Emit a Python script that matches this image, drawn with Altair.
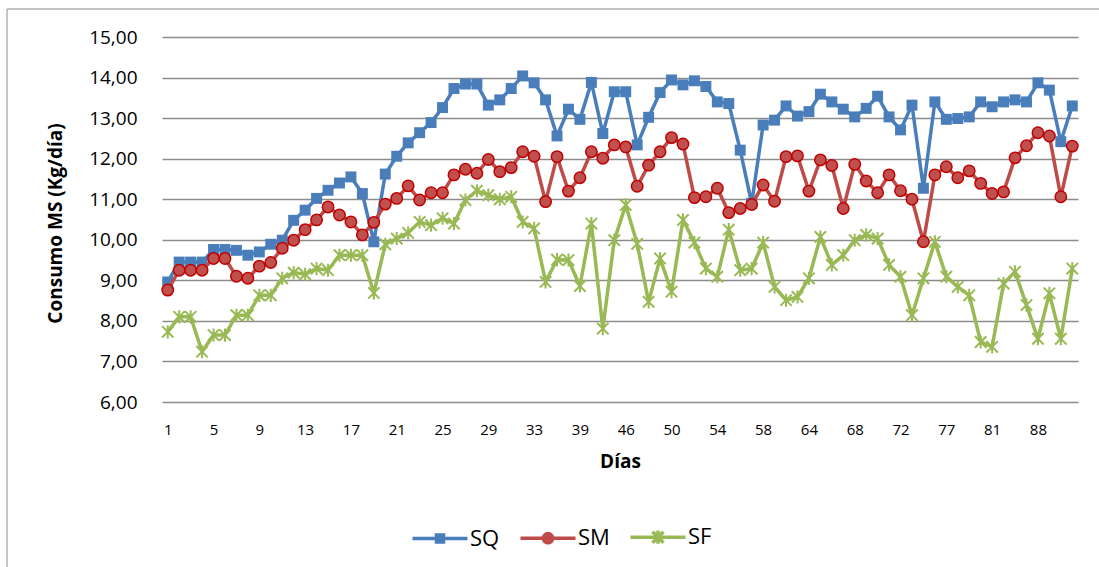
import altair as alt
import pandas as pd

dias = [str(d) for d in range(1, 34)] + [
    "34", "36", "37", "39",
    "41", "43", "44", "46",
    "47", "48", "49", "50",
    "51", "52", "53", "54",
    "55", "56", "57", "58",
    "60", "62", "63", "64",
    "65", "66", "67", "68",
    "69", "70", "71", "72",
    "74", "75", "76", "77",
    "78", "79", "80", "81",
    "83", "85", "86", "88",
    "89", "90", "91",
]

etiquetas = ["1", "5", "9", "13", "17", "21", "25", "29", "33", "39", "46",
             "50", "54", "58", "64", "68", "72", "77", "81", "88"]

sq = [8.96, 9.45, 9.45, 9.45, 9.76, 9.76, 9.74, 9.62, 9.70, 9.89,
      9.99, 10.48, 10.73, 11.02, 11.22, 11.40, 11.55, 11.14, 9.95, 11.62,
      12.06, 12.39, 12.64, 12.89, 13.26, 13.73, 13.84, 13.84, 13.32, 13.45,
      13.73, 14.04, 13.87, 13.45, 12.56, 13.22, 12.97, 13.88, 12.62, 13.65,
      13.65, 12.34, 13.02, 13.63, 13.94, 13.82, 13.92, 13.78, 13.40, 13.36,
      12.21, 10.90, 12.83, 12.95, 13.30, 13.05, 13.16, 13.59, 13.40, 13.22,
      13.03, 13.24, 13.54, 13.03, 12.71, 13.32, 11.27, 13.40, 12.97, 12.99,
      13.03, 13.40, 13.28, 13.40, 13.45, 13.40, 13.87, 13.69, 12.42, 13.30]

sm = [8.76, 9.25, 9.25, 9.25, 9.54, 9.54, 9.10, 9.05, 9.35, 9.44,
      9.79, 9.99, 10.25, 10.49, 10.81, 10.61, 10.44, 10.12, 10.43, 10.88,
      11.02, 11.33, 10.98, 11.16, 11.16, 11.60, 11.74, 11.64, 11.98, 11.68,
      11.78, 12.17, 12.06, 10.94, 12.05, 11.20, 11.53, 12.17, 12.01, 12.34,
      12.29, 11.32, 11.84, 12.17, 12.52, 12.36, 11.04, 11.06, 11.27, 10.67,
      10.77, 10.87, 11.35, 10.95, 12.05, 12.07, 11.20, 11.97, 11.83, 10.77,
      11.86, 11.45, 11.16, 11.60, 11.21, 11.00, 9.95, 11.60, 11.80, 11.53,
      11.70, 11.39, 11.14, 11.18, 12.02, 12.32, 12.64, 12.56, 11.06, 12.31]

sf = [7.73, 8.10, 8.10, 7.24, 7.65, 7.65, 8.14, 8.14, 8.63, 8.63,
      9.05, 9.19, 9.15, 9.29, 9.25, 9.62, 9.62, 9.62, 8.69, 9.89,
      10.03, 10.17, 10.44, 10.36, 10.53, 10.40, 10.98, 11.21, 11.10, 11.00,
      11.06, 10.44, 10.28, 8.96, 9.51, 9.50, 8.86, 10.40, 7.81, 9.99,
      10.86, 9.90, 8.47, 9.54, 8.72, 10.49, 9.93, 9.29, 9.09, 10.25,
      9.25, 9.29, 9.93, 8.84, 8.51, 8.59, 9.05, 10.07, 9.38, 9.62,
      9.99, 10.12, 10.03, 9.38, 9.09, 8.14, 9.05, 9.95, 9.09, 8.84,
      8.63, 7.48, 7.36, 8.92, 9.21, 8.39, 7.56, 8.68, 7.56, 9.29]

series = ["SQ", "SM", "SF"]
col_linea = ["#4a7ebb", "#be4b48", "#98b954"]

leg_paths = [
    "M-2.5,0H2.5M-0.32,-0.32H0.32V0.32H-0.32Z",
    "M-2.5,0H2.5M0.42,0A0.42,0.42,0,1,1,-0.42,0A0.42,0.42,0,1,1,0.42,0Z",
    "M-2.5,0H2.5M-0.5,-0.5L0.5,0.5M-0.5,0.5L0.5,-0.5M0,-0.6V0.6",
]
leg_fill = ["#4a7ebb", "#c0504d", "#98b954"]
leg_stroke = ["#4a7ebb", "#be4b48", "#98b954"]

rows = []
for nombre, vals in zip(series, [sq, sm, sf]):
    for d, v in zip(dias, vals):
        rows.append({"dia": d, "serie": nombre, "valor": v})
df = pd.DataFrame(rows)

FONT = "Open Sans"

x_enc = alt.X(
    "dia:N", sort=dias,
    scale=alt.Scale(type="point", padding=0.5),
    axis=alt.Axis(values=etiquetas, labelAngle=0, title="Días",
                  labelFontSize=15, labelPadding=20, tickSize=0, ticks=False,
                  domain=False, grid=False,
                  titleFontSize=19, titleFontWeight="bold",
                  titleY=65, titleBaseline="alphabetic"),
)
y_enc = alt.Y(
    "valor:Q",
    scale=alt.Scale(domain=[6, 15], nice=False, zero=False),
    axis=alt.Axis(values=list(range(6, 16)),
                  labelExpr="replace(format(datum.value, '.2f'), '.', ',')",
                  title="Consumo MS (Kg/día)",
                  labelFontSize=19, labelPadding=25, ticks=False, tickSize=0,
                  domain=False, grid=True, gridColor="#8c8c8c", gridWidth=1.3,
                  titleFontSize=19, titleFontWeight="bold",
                  titleAngle=-90, titleX=-107, titleY=186,
                  titleAlign="center", titleBaseline="middle"),
)

frame = alt.Chart(pd.DataFrame({"k": [0]})).mark_rect(
    fill="transparent", stroke="#8c8c8c", strokeWidth=1
).encode(x=alt.value(-155), x2=alt.value(960), y=alt.value(-28), y2=alt.value(560))

star = "M-1,-1L1,1M-1,1L1,-1M0,-1.15L0,1.15"

layers = [frame]
for i, nombre in enumerate(series):
    base = alt.Chart(df).transform_filter(alt.datum.serie == nombre)
    line = base.mark_line(strokeWidth=3.5, color=col_linea[i]).encode(x=x_enc, y=y_enc)
    if nombre == "SQ":
        pts = base.mark_square(size=120, color=col_linea[i], opacity=1).encode(x=x_enc, y=y_enc)
    elif nombre == "SM":
        pts = base.mark_circle(size=130, fill="#c0504d", stroke="#c00000",
                               strokeWidth=1.5, opacity=1).encode(x=x_enc, y=y_enc)
    else:
        pts = base.mark_point(shape=star, size=130, filled=False, stroke=col_linea[i],
                              strokeWidth=2, opacity=1).encode(x=x_enc, y=y_enc)
    layers += [line, pts]

legend_layer = alt.Chart(df).mark_point(filled=True, opacity=0).encode(
    x=x_enc, y=y_enc,
    shape=alt.Shape("serie:N", scale=alt.Scale(domain=series, range=leg_paths), title=None),
    fill=alt.Fill("serie:N", scale=alt.Scale(domain=series, range=leg_fill), title=None),
    stroke=alt.Stroke("serie:N", scale=alt.Scale(domain=series, range=leg_stroke), title=None),
)
layers.append(legend_layer)

chart = alt.layer(*layers).properties(
    width=916, height=365,
    padding={"left": 162, "top": 37, "right": 21, "bottom": 165},
    autosize=alt.AutoSizeParams(type="none"),
    background="white",
).configure_view(stroke=None).configure_axis(
    labelFont=FONT, titleFont=FONT, labelColor="#000000", titleColor="#000000"
).configure_legend(
    orient="none", legendX=265, legendY=487, direction="horizontal",
    symbolSize=484, symbolStrokeWidth=3.5, symbolOpacity=1,
    labelFont=FONT, labelFontSize=22, labelColor="#000000",
    labelOffset=17, columnPadding=13, padding=0,
)

chart.save("out.html", embed_options={"renderer": "svg", "actions": False})
